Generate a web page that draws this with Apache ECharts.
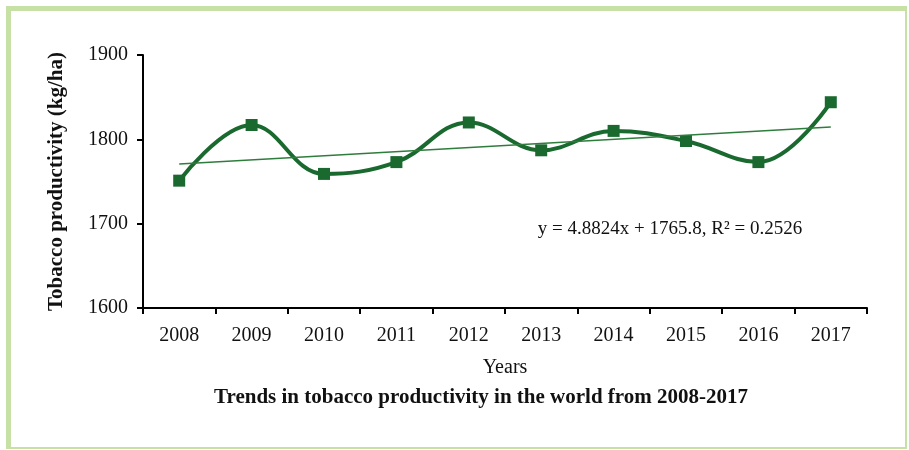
<!DOCTYPE html>
<html>
<head>
<meta charset="utf-8">
<script src="https://cdn.jsdelivr.net/npm/echarts@6/dist/echarts.min.js"></script>
<style>
html,body{margin:0;padding:0;background:#fff;}
#chart{width:909px;height:450px;}
</style>
</head>
<body>
<div id="chart"></div>
<script>
var years = ['2008','2009','2010','2011','2012','2013','2014','2015','2016','2017'];
var productivity = [1751, 1817, 1759, 1773, 1820, 1787, 1810, 1798, 1773, 1844];
var trendEnds = [1770.7, 1814.6];
var yTicks = {min: 1600, max: 1900, interval: 100};
var equationText = 'y = 4.8824x + 1765.8, R² = 0.2526';
var titleText = 'Trends in tobacco productivity in the world from 2008-2017';

var serif = '"Liberation Serif", "Times New Roman", serif';
var green = '#1a6a30';

var chart = echarts.init(document.getElementById('chart'));
chart.setOption({
  animation: false,
  backgroundColor: '#fff',
  grid: {left: 143, right: 42, top: 55, bottom: 142},
  xAxis: {
    type: 'category',
    data: years,
    boundaryGap: true,
    name: 'Years',
    nameLocation: 'middle',
    nameGap: 50,
    nameTextStyle: {fontFamily: serif, fontSize: 20, color: '#111'},
    axisLine: {lineStyle: {color: '#000', width: 2}},
    axisTick: {show: true, interval: 0, alignWithLabel: false, length: 6, lineStyle: {color: '#000', width: 2}},
    axisLabel: {fontFamily: serif, fontSize: 20, color: '#111', margin: 18, interval: 0}
  },
  yAxis: {
    type: 'value',
    min: yTicks.min, max: yTicks.max, interval: yTicks.interval,
    name: 'Tobacco productivity (kg/ha)',
    nameLocation: 'middle',
    nameGap: 76,
    nameTextStyle: {fontFamily: serif, fontSize: 21, fontWeight: 'bold', color: '#111'},
    axisLine: {show: true, lineStyle: {color: '#000', width: 2}},
    axisTick: {show: true, length: 6, lineStyle: {color: '#000', width: 2}},
    axisLabel: {fontFamily: serif, fontSize: 20, color: '#111', margin: 15, formatter: function (v) { return String(v); }},
    splitLine: {show: false}
  },
  series: [{
    type: 'line',
    data: productivity,
    smooth: 0.4,
    symbol: 'rect',
    symbolSize: 12,
    lineStyle: {color: green, width: 4},
    itemStyle: {color: green},
    z: 3,
    markLine: {
      silent: true,
      symbol: ['none', 'none'],
      label: {show: false},
      lineStyle: {color: '#2f7d3c', width: 1.5, type: 'solid'},
      data: [[{coord: [years[0], trendEnds[0]]}, {coord: [years[years.length - 1], trendEnds[1]]}]]
    }
  }],
  graphic: [
    {type: 'rect', shape: {x: 6, y: 6, width: 5, height: 443}, style: {fill: '#c6e0a6'}, silent: true},
    {type: 'rect', shape: {x: 6, y: 6, width: 901, height: 5}, style: {fill: '#c6e0a6'}, silent: true},
    {type: 'rect', shape: {x: 905, y: 6, width: 2, height: 443}, style: {fill: '#c6e0a6'}, silent: true},
    {type: 'rect', shape: {x: 6, y: 447, width: 901, height: 2}, style: {fill: '#c6e0a6'}, silent: true},
    {type: 'text', x: 670, y: 229, style: {text: equationText, font: '19px ' + serif, fill: '#111', textAlign: 'center', textVerticalAlign: 'middle'}},
    {type: 'text', x: 481, y: 398, style: {text: titleText, font: 'bold 21px ' + serif, fill: '#111', textAlign: 'center', textVerticalAlign: 'middle'}}
  ]
});
</script>
</body>
</html>
